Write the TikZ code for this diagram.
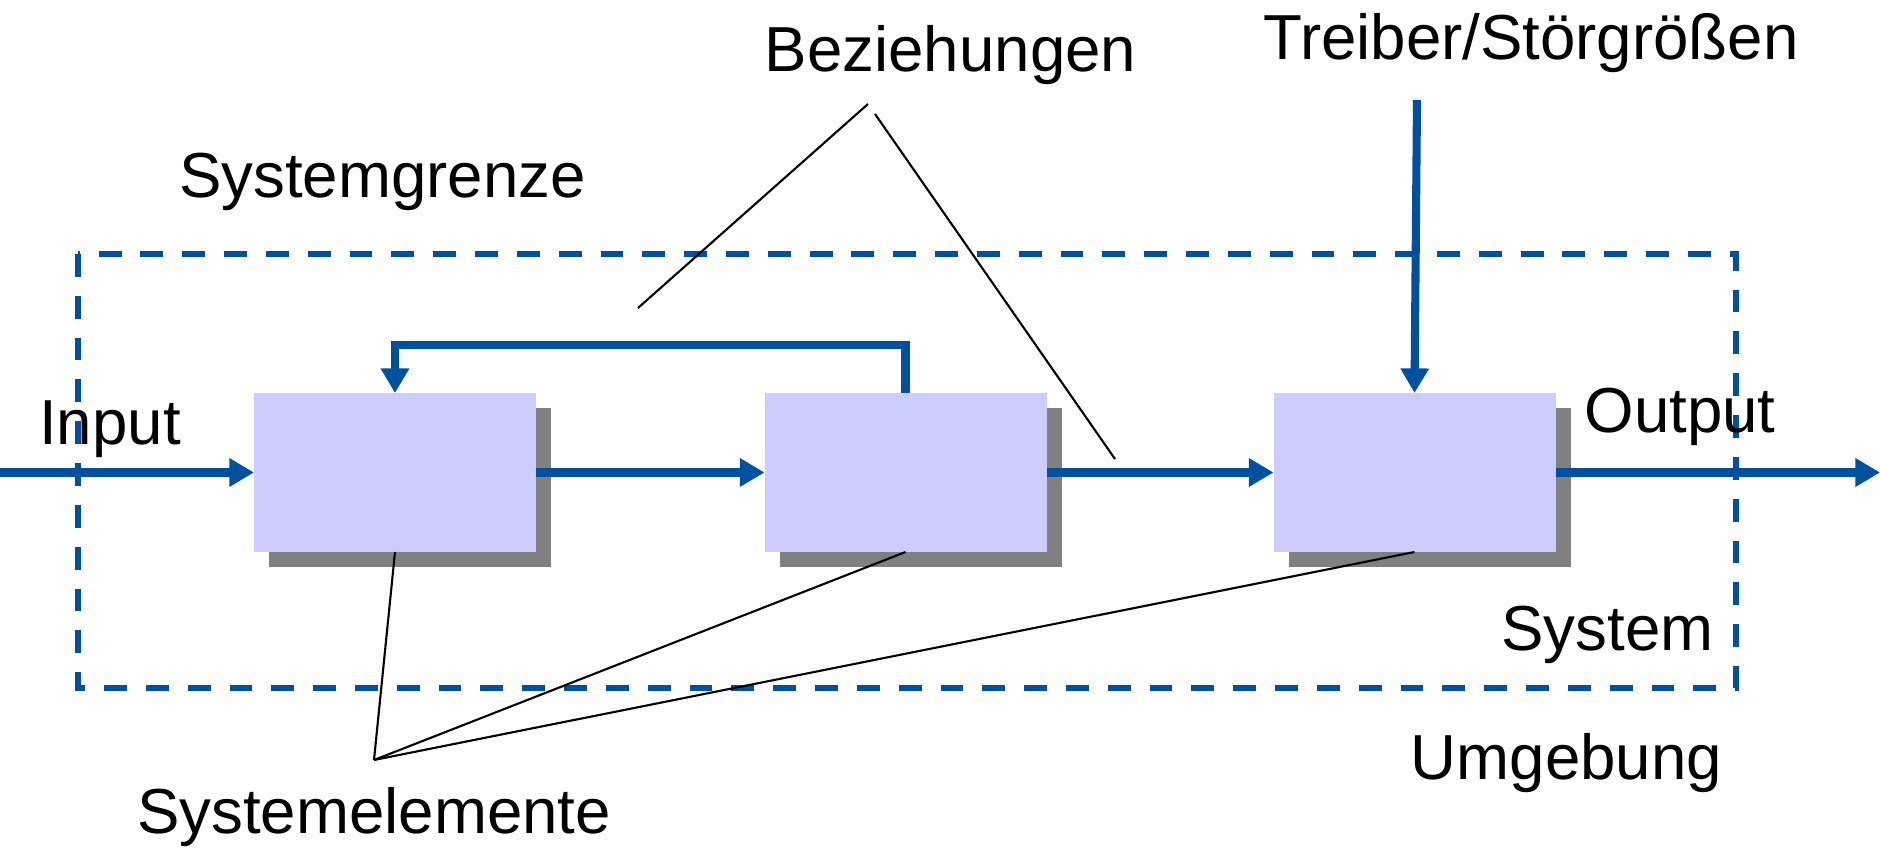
\documentclass[tikz,border=0pt]{standalone}
\usepackage{fontspec}
\setmainfont{Liberation Sans}
\usetikzlibrary{arrows.meta,shadows}
\definecolor{flowblue}{RGB}{0,80,160}
\definecolor{elemfill}{RGB}{204,204,255}

\begin{document}
\begin{tikzpicture}[x=0.1mm,y=-0.1mm,every node/.style={outer sep=0pt},
lbl/.style={inner sep=0pt,anchor=base,font=\fontsize{18.1}{20}\selectfont},
elem/.style={fill=elemfill,minimum width=28.2mm,minimum height=15.9mm,inner sep=0pt,
  drop shadow={shadow xshift=1.5mm,shadow yshift=-1.5mm,fill=black!50,opacity=1}},
flow/.style={draw=flowblue,line width=2.3pt,-{Triangle[length=7pt,width=7.7pt]}},
grenze/.style={draw=flowblue,line width=1.7pt,dash pattern=on 6.5pt off 5.4pt},
hint/.style={draw=black,line width=0.6pt}]
\useasboundingbox (0,0) rectangle (1880,848);
\draw[grenze] (78,254) rectangle (1736,688);
\node[elem] (e1) at (395,472.5) {};
\node[elem] (e2) at (905.5,472.5) {};
\node[elem] (e3) at (1414.5,472.5) {};
\node[lbl] (bez) at (950.5,72) {Beziehungen};
\node[lbl] (drvtext) at (1531,60) {Treiber/Störgrößen};
\node[lbl] (grenztext) at (382.5,198) {Systemgrenze};
\node[lbl] (intext) at (110,444) {Input};
\node[lbl] (outtext) at (1680,432) {Output};
\node[lbl] (systext) at (1607.5,650) {System};
\node[lbl] (umtext) at (1566.5,779) {Umgebung};
\node[lbl] (elemtext) at (374,833) {Systemelemente};
\coordinate (in) at (0,472.5);
\coordinate (out) at (1880,472.5);
\coordinate (drv) at (1417,100);
\coordinate (b1) at (868,104);
\coordinate (b1e) at (638,308);
\coordinate (b2) at (875,114);
\coordinate (b2e) at (1115,459);
\coordinate (se) at (374,760);
\draw[flow] (in) -- (e1.west);
\draw[flow] (e1.east) -- (e2.west);
\draw[flow] (e2.east) -- (e3.west);
\draw[flow] (e3.east) -- (out);
\draw[flow] (e2.north) -- ++(0,-48) -| (e1.north);
\draw[flow] (drv) -- (e3.north);
\draw[hint] (b1) -- (b1e);
\draw[hint] (b2) -- (b2e);
\foreach \e in {e1,e2,e3} {
\draw[hint] (se) -- (\e.south);
}
\end{tikzpicture}
\end{document}
